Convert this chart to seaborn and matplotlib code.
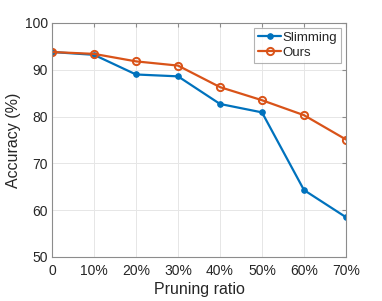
import pandas as pd
import matplotlib
matplotlib.use("Agg")
import matplotlib.pyplot as plt
import seaborn as sns

ratios = [0, 10, 20, 30, 40, 50, 60, 70]
tick_labels = ['0', '10%', '20%', '30%', '40%', '50%', '60%', '70%']
slimming = [93.8, 93.2, 89.0, 88.6, 82.7, 80.9, 64.3, 58.5]
ours = [93.8, 93.4, 91.8, 90.9, 86.3, 83.5, 80.3, 75.1]

sns.set_style("whitegrid")
plt.rcParams['font.family'] = ['Liberation Sans', 'DejaVu Sans']

df = pd.DataFrame({"ratio": ratios, "Slimming": slimming, "Ours": ours})

fig = plt.figure(figsize=(3.82, 3.01), dpi=100)
ax = fig.add_axes([52 / 382, 1 - 257 / 301, 294 / 382, 234 / 301])

sns.lineplot(data=df, x="ratio", y="Slimming", ax=ax, color='#0072BD', lw=1.6,
             marker='o', markersize=4, markeredgecolor='#0072BD', label='Slimming')
sns.lineplot(data=df, x="ratio", y="Ours", ax=ax, color='#D95319', lw=1.6,
             marker='o', markersize=5.2, markerfacecolor='none', markeredgewidth=1.4,
             markeredgecolor='#D95319', label='Ours')

ax.set_xlim(0, 70)
ax.set_ylim(50, 100)
ax.set_xticks(ratios)
ax.set_xticklabels(tick_labels)
ax.set_yticks([50, 60, 70, 80, 90, 100])
ax.grid(True, color='#e6e6e6', lw=0.7)
for s in ax.spines.values():
    s.set_color('#8c8c8c')
    s.set_linewidth(0.8)
ax.tick_params(axis='both', direction='in', length=3, color='#8c8c8c',
               labelsize=10, labelcolor='#262626', top=True, right=True, pad=3)
ax.tick_params(axis='x', pad=5)
ax.set_xlabel("Pruning ratio", fontsize=11.5, color='#262626', labelpad=3)
ax.set_ylabel("Accuracy (%)", fontsize=11.5, color='#262626', labelpad=3)

leg = ax.legend(loc='upper right', fontsize=9.5, frameon=True, fancybox=False,
                handlelength=1.7, handletextpad=0.15, borderpad=0.3,
                labelspacing=0.2, borderaxespad=0.35)
leg.get_frame().set_edgecolor('#a0a0a0')
leg.get_frame().set_linewidth(0.8)

fig.savefig("out.png", dpi=100)
